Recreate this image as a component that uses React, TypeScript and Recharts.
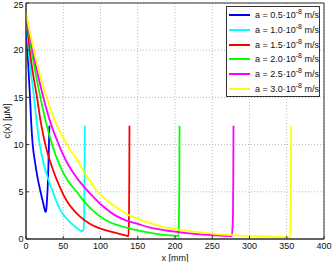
import React from 'react';
import { LineChart, Line, XAxis, YAxis, CartesianGrid, Legend, ReferenceArea, Label } from 'recharts';

// x positions [mm] and concentrations [uM]
const blueX = [0, 2.5, 5.4, 7, 9, 12, 15.5, 19.5, 22.5, 24.5, 26, 27, 28, 29, 30, 30.8, 31.4];
const blueY = [23.8, 19.2, 15, 12.3, 10, 8.2, 6.5, 5, 4, 3.3, 2.87, 3.0, 3.9, 5.3, 7.5, 10, 12];

const cyanX = [0, 5, 10.8, 14.5, 18.5, 24, 30, 36, 41, 47, 53, 59, 65, 70, 73.5, 75.5, 77, 78, 78.6, 79];
const cyanY = [23.8, 18.8, 15, 12.3, 10, 7.9, 6.3, 5, 3.95, 2.95, 2.3, 1.8, 1.38, 1.05, 0.88, 0.82, 0.95, 2, 6, 12];

const redX = [0, 7, 14.8, 20, 26, 35, 46, 55, 64, 73, 85, 100, 115, 128, 135, 137.5, 138.2, 138.6, 138.9];
const redY = [23.8, 18.8, 15, 12.3, 10, 7.6, 5.4, 4.0, 3.05, 2.34, 1.65, 1.1, 0.75, 0.5, 0.35, 0.32, 2, 6, 12];

const greenX = [0, 10, 19.3, 27, 35, 45.8, 56, 68, 80, 90, 102, 115, 128, 140, 150, 160, 175, 188, 200, 204.5, 205.3, 205.8, 206.1];
const greenY = [23.8, 18.8, 15, 12.3, 10, 7.7, 6.2, 5, 3.8, 3.0, 2.25, 1.7, 1.35, 1.1, 0.92, 0.75, 0.55, 0.42, 0.34, 0.3, 2, 6, 12];

const magentaX = [0, 12, 23.3, 33, 44, 55, 68, 84, 103, 121, 135, 150, 167, 188, 203, 234, 255, 276, 277.7, 278.2, 278.5];
const magentaY = [23.8, 18.8, 15, 12.3, 10, 8.1, 6.5, 5, 3.5, 2.45, 1.95, 1.6, 1.2, 0.9, 0.75, 0.48, 0.38, 0.3, 2, 6, 12];

const yellowX = [0, 14, 27.8, 40, 55, 70, 82, 95, 110, 125, 140, 155, 170, 188, 203, 235, 260, 290, 320, 350, 354.5, 355.2, 355.6, 355.9];
const yellowY = [23.9, 18.8, 15, 12.3, 10, 8.2, 6.6, 5.1, 4.0, 3.15, 2.45, 2.0, 1.6, 1.2, 1.0, 0.7, 0.5, 0.36, 0.27, 0.2, 0.2, 2, 6, 12];

const aValues = ['0.5', '1.0', '1.5', '2.0', '2.5', '3.0'];
const colors = ['#0000ff', '#00ffff', '#ff0000', '#00ff00', '#ff00ff', '#ffff00'];

const xTicks = [0, 50, 100, 150, 200, 250, 300, 350, 400];
const yTicks = [0, 5, 10, 15, 20, 25];

const toPoints = (xs: number[], ys: number[]) => xs.map((x, i) => ({ x, y: ys[i] }));

const series = [
  toPoints(blueX, blueY),
  toPoints(cyanX, cyanY),
  toPoints(redX, redY),
  toPoints(greenX, greenY),
  toPoints(magentaX, magentaY),
  toPoints(yellowX, yellowY),
];

const font = 'Liberation Sans, Arial, sans-serif';
const tickStyle = { fontSize: 9, fill: '#111', fontFamily: font };

const LegendBox = () => (
  <div
    style={{
      border: '1px solid #333',
      background: '#fff',
      fontFamily: font,
      fontSize: 9,
      color: '#111',
      paddingTop: 0.6,
      width: 94,
      boxSizing: 'border-box',
    }}
  >
    {aValues.map((a, i) => (
      <div key={a} style={{ display: 'flex', alignItems: 'center', height: 14.8, whiteSpace: 'nowrap' }}>
        <svg width={24} height={4} style={{ marginLeft: 2, marginRight: 2 }}>
          <line x1={0} y1={2} x2={21} y2={2} stroke={colors[i]} strokeWidth={2} />
        </svg>
        <span>
          a = {a}·10
          <span style={{ fontSize: 7, verticalAlign: 'super', lineHeight: 0 }}>-8</span> m/s
        </span>
      </div>
    ))}
  </div>
);

export default function App() {
  return (
    <div style={{ position: 'fixed', left: 0, top: 0, background: '#fff' }}>
      <LineChart width={332} height={262} margin={{ top: 3, right: 8, left: 0, bottom: 0 }}>
        <CartesianGrid stroke="#b8b8b8" strokeDasharray="1 2" />
        <XAxis
          dataKey="x"
          type="number"
          domain={[0, 400]}
          ticks={xTicks}
          height={23}
          tick={tickStyle}
          tickSize={-3}
          tickMargin={7}
          stroke="#333"
          allowDataOverflow
        >
          <Label value="x [mm]" position="insideBottom" offset={1} style={{ fontSize: 9, fill: '#111', fontFamily: font }} />
        </XAxis>
        <XAxis
          xAxisId="top"
          orientation="top"
          type="number"
          domain={[0, 400]}
          ticks={xTicks}
          height={0}
          mirror
          tick={false}
          tickSize={3}
          stroke="#333"
        />
        <YAxis
          type="number"
          domain={[0, 25]}
          ticks={yTicks}
          width={26}
          tick={tickStyle}
          tickSize={-3}
          tickMargin={5.5}
          stroke="#333"
          allowDataOverflow
        >
          <Label
            value="c(x) [μM]"
            angle={-90}
            position="insideLeft"
            offset={6.5}
            style={{ fontSize: 9, fill: '#111', fontFamily: font, textAnchor: 'middle' }}
          />
        </YAxis>
        <YAxis
          yAxisId="right"
          orientation="right"
          type="number"
          domain={[0, 25]}
          ticks={yTicks}
          width={0}
          mirror
          tick={false}
          tickSize={3}
          stroke="#333"
        />
        <ReferenceArea x1={0} x2={400} y1={0} y2={25} fill="none" stroke="#333" strokeOpacity={1} ifOverflow="visible" />
        {series.map((pts, i) => (
          <Line
            key={aValues[i]}
            data={pts}
            dataKey="y"
            type="monotone"
            stroke={colors[i]}
            strokeWidth={1.8}
            dot={false}
            activeDot={false}
            isAnimationActive={false}
          />
        ))}
        <Legend
          layout="vertical"
          align="center"
          verticalAlign="middle"
          content={<LegendBox />}
          wrapperStyle={{ top: 6, left: 226, width: 94 }}
        />
      </LineChart>
    </div>
  );
}
